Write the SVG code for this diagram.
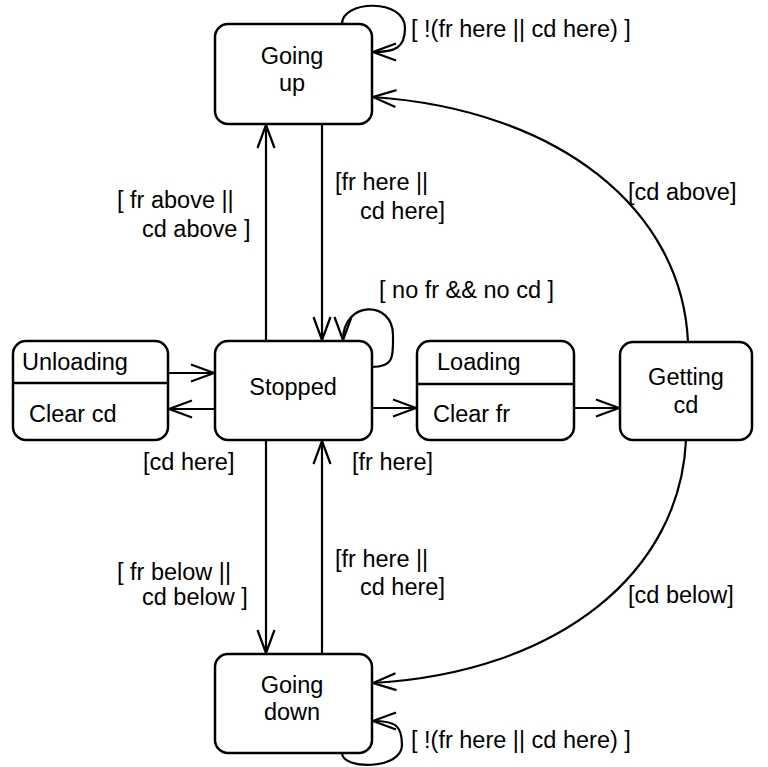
<svg xmlns="http://www.w3.org/2000/svg" width="768" height="767" viewBox="0 0 768 767">
<style>
.box{fill:#fff;stroke:#000;stroke-width:2.5}
.ln{fill:none;stroke:#000;stroke-width:2.2}
text{font-family:"Liberation Sans",Arial,Helvetica,sans-serif;font-size:23.5px;fill:#000}
.c{text-anchor:middle}
</style>
<defs>
<marker id="ah" markerUnits="userSpaceOnUse" markerWidth="30" markerHeight="24" viewBox="-25 -12 30 24" refX="0" refY="0" orient="auto">
<path d="M -23 -8.5 L 0 0 L -23 8.5" fill="none" stroke="#000" stroke-width="2.2"/>
</marker>
</defs>
<rect width="768" height="767" fill="#fff"/>
<g id="connectors">
<path class="ln" d="M 266 341 L 266 125" marker-end="url(#ah)"/>
<path class="ln" d="M 322 124 L 322 340" marker-end="url(#ah)"/>
<path class="ln" d="M 266 440 L 266 653" marker-end="url(#ah)"/>
<path class="ln" d="M 322 654 L 322 441" marker-end="url(#ah)"/>
<path class="ln" d="M 168 373 L 214 373" marker-end="url(#ah)"/>
<path class="ln" d="M 215 409 L 169 409" marker-end="url(#ah)"/>
<path class="ln" d="M 372 408 L 416 408" marker-end="url(#ah)"/>
<path class="ln" d="M 574 408 L 619 408" marker-end="url(#ah)"/>
<path class="ln" d="M 688 342 C 682 210, 560 110, 373 97" marker-end="url(#ah)"/>
<path class="ln" d="M 686 440 C 680 572, 560 672, 373 683" marker-end="url(#ah)"/>
<path class="ln" d="M 342 24 C 342 0, 405 -2, 405 28 C 405 48, 395 52, 373 52" marker-end="url(#ah)"/>
<path class="ln" d="M 372 367 C 395 367, 393 355, 393 335 C 393 300, 343 300, 343 340" marker-end="url(#ah)"/>
<path class="ln" d="M 342 753 C 342 770, 402 770, 402 745 C 402 725, 395 721, 373 721" marker-end="url(#ah)"/>
<text x="411" y="37">[ !(fr here || cd here) ]</text>
<text x="411" y="748">[ !(fr here || cd here) ]</text>
<text x="117" y="208">[ fr above ||</text>
<text x="142" y="237">cd above ]</text>
<text x="335" y="190">[fr here ||</text>
<text x="360" y="219">cd here]</text>
<text x="117" y="580">[ fr below ||</text>
<text x="142" y="605">cd below ]</text>
<text x="335" y="567">[fr here ||</text>
<text x="360" y="595">cd here]</text>
<text x="379" y="298">[ no fr &amp;&amp; no cd ]</text>
<text x="143" y="470">[cd here]</text>
<text x="352" y="470">[fr here]</text>
<text x="628" y="200">[cd above]</text>
<text x="628" y="603">[cd below]</text>
</g>
<g id="going-up">
<rect class="box" x="215" y="24" width="157" height="100" rx="13"/>
<text class="c" x="292" y="64">Going</text>
<text class="c" x="292" y="91">up</text>
</g>
<g id="stopped">
<rect class="box" x="215" y="341" width="157" height="99" rx="13"/>
<text class="c" x="293" y="395">Stopped</text>
</g>
<g id="unloading">
<rect class="box" x="13" y="341" width="155" height="99" rx="13"/>
<line x1="13" y1="383" x2="168" y2="383" stroke="#000" stroke-width="2.5"/>
<text x="22" y="370">Unloading</text>
<text x="29" y="422">Clear cd</text>
</g>
<g id="loading">
<rect class="box" x="417" y="341" width="157" height="99" rx="13"/>
<line x1="417" y1="384" x2="574" y2="384" stroke="#000" stroke-width="2.5"/>
<text x="437" y="370">Loading</text>
<text x="433" y="422">Clear fr</text>
</g>
<g id="getting-cd">
<rect class="box" x="620" y="342" width="132" height="98" rx="13"/>
<text class="c" x="686" y="385">Getting</text>
<text class="c" x="686" y="413">cd</text>
</g>
<g id="going-down">
<rect class="box" x="215" y="654" width="157" height="99" rx="13"/>
<text class="c" x="292" y="693">Going</text>
<text class="c" x="292" y="720">down</text>
</g>
</svg>
